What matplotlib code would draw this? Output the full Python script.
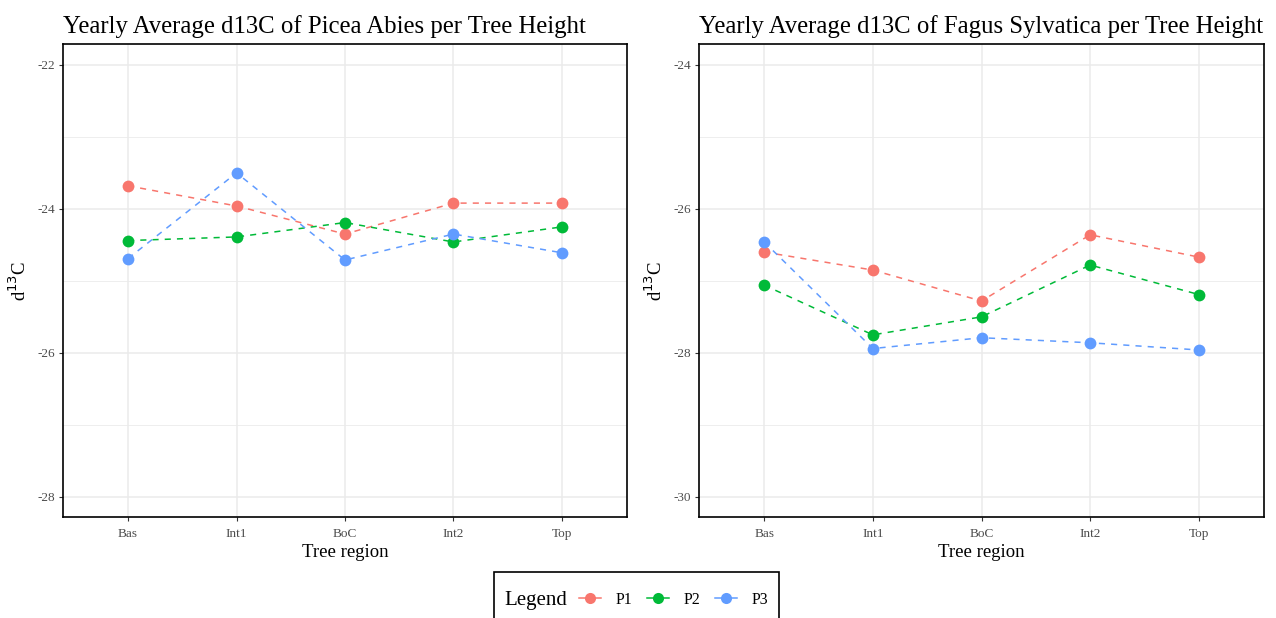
"""Yearly average d13C per tree height for two species (ggplot-like style)."""

import matplotlib

matplotlib.use("Agg")
import matplotlib.pyplot as plt
from matplotlib.lines import Line2D
from matplotlib.patches import Rectangle
from matplotlib.ticker import MultipleLocator

regions = ["Bas", "Int1", "BoC", "Int2", "Top"]
plots = ["P1", "P2", "P3"]
colors = ["#F8766D", "#00BA38", "#619CFF"]

picea_p1 = [-23.68, -23.96, -24.35, -23.92, -23.92]
picea_p2 = [-24.44, -24.39, -24.19, -24.46, -24.25]
picea_p3 = [-24.69, -23.50, -24.71, -24.35, -24.61]

fagus_p1 = [-26.60, -26.85, -27.28, -26.36, -26.67]
fagus_p2 = [-27.06, -27.75, -27.50, -26.78, -27.19]
fagus_p3 = [-26.46, -27.94, -27.79, -27.86, -27.96]

plt.rcParams["font.family"] = ["Liberation Serif", "DejaVu Serif"]

W, H = 1276, 618
fig = plt.figure(figsize=(W / 100, H / 100), dpi=100)


def px_box(x0, y0, x1, y1):
    return [x0 / W, 1 - y1 / H, (x1 - x0) / W, (y1 - y0) / H]


panels = [
    ("Yearly Average d13C of Picea Abies per Tree Height",
     [picea_p1, picea_p2, picea_p3], (-28.28, -21.71), px_box(63, 44, 627, 517)),
    ("Yearly Average d13C of Fagus Sylvatica per Tree Height",
     [fagus_p1, fagus_p2, fagus_p3], (-30.28, -23.71), px_box(699, 44, 1264, 517)),
]

x = list(range(len(regions)))
for title, series, ylim, box in panels:
    ax = fig.add_axes(box)
    for vals, col in zip(series, colors):
        ax.plot(x, vals, color=col, lw=1.1, ls=(0, (4, 4)), zorder=3)
        ax.plot(x, vals, "o", color=col, ms=8.5, mec="none", zorder=4)
    ax.set_xlim(-0.6, len(regions) - 0.4)
    ax.set_ylim(*ylim)
    ax.set_xticks(x)
    ax.set_xticklabels(regions)
    ax.yaxis.set_major_locator(MultipleLocator(2))
    ax.yaxis.set_minor_locator(MultipleLocator(1))
    ax.yaxis.set_major_formatter(lambda v, p: f"{v:.0f}".replace("\u2212", "-"))
    ax.grid(True, which="major", color="#EBEBEB", lw=1.1, zorder=0)
    ax.grid(True, which="minor", axis="y", color="#EBEBEB", lw=0.6, zorder=0)
    ax.tick_params(which="major", length=3, width=0.8, color="#333333",
                   labelsize=9.5, labelcolor="#4D4D4D", pad=3)
    ax.tick_params(axis="x", which="major", pad=5)
    ax.tick_params(which="minor", length=0)
    for sp in ax.spines.values():
        sp.set_color("black")
        sp.set_linewidth(1.2)
    ax.set_title(title, fontsize=17.8, loc="left", pad=8)
    ax.set_xlabel("Tree region", fontsize=13.5, labelpad=3)
    ax.set_ylabel("d$^{13}$C", fontsize=13.5, labelpad=5)
    ax.set_axisbelow(True)

# legend box at the bottom, title on the left like ggplot
fig.patches.append(Rectangle((494 / W, 1 - 640 / H), (779 - 494) / W, (640 - 572) / H,
                             transform=fig.transFigure, fill=False, ec="black",
                             lw=1.2, clip_on=False))
fig.text(504 / W, 1 - 601 / H, "Legend", fontsize=15, va="center", ha="left")
handles = [Line2D([], [], color=c, ls="-", lw=1.1, marker="o", ms=8, mec="none")
           for c in colors]
fig.legend(handles, plots, loc="center left", bbox_to_anchor=(579 / W, 1 - 600 / H),
           ncol=3, frameon=False, fontsize=11.5, handlelength=1.4, handletextpad=0.9,
           columnspacing=0.9, borderpad=0, borderaxespad=0)

fig.savefig("out.png", dpi=100)
